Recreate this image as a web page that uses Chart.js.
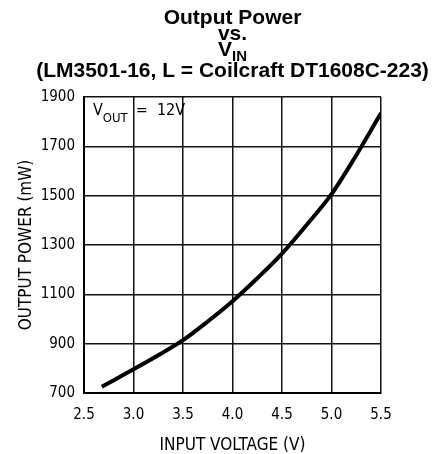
<!DOCTYPE html>
<html>
<head>
<meta charset="utf-8">
<script src="https://cdn.jsdelivr.net/npm/chart.js@4"></script>
<style>
  html, body { margin: 0; padding: 0; background: #fff; }
  #wrap { width: 438px; height: 454px; }
</style>
</head>
<body>
<div id="wrap"><canvas id="grafico" width="438" height="454"></canvas></div>
<script>
// values
var vin = [2.68, 3.0, 3.25, 3.5, 3.75, 4.0, 4.25, 4.5, 4.75, 5.0, 5.25, 5.5];
var pout = [725, 796, 853, 914, 990, 1072, 1165, 1265, 1382, 1506, 1664, 1835];
var xTickLabels = ['2.5', '3.0', '3.5', '4.0', '4.5', '5.0', '5.5'];
var yTickLabels = ['700', '900', '1100', '1300', '1500', '1700', '1900'];

var tickFont = { family: 'DejaVu Sans Condensed', size: 15 };
var axisFont = { family: 'DejaVu Sans Condensed', size: 17 };

// titles + V_OUT note (need subscripts, so drawn by hand)
var textos = {
    id: 'textos',
    afterDraw: function(chart) {
        var c = chart.ctx;
        var cx = (chart.chartArea.left + chart.chartArea.right) / 2;
        var big = 'bold 21px "Liberation Sans"';
        var sub = 'bold 15px "Liberation Sans"';
        c.save();
        c.fillStyle = '#000';
        c.textBaseline = 'middle';
        c.textAlign = 'center';
        c.font = big;
        c.fillText('Output Power', cx, 18);
        c.fillText('vs.', cx, 34);
        // V with IN subscript
        var wV = c.measureText('V').width;
        c.font = sub;
        var wIn = c.measureText('IN').width;
        var x0 = cx - (wV + wIn) / 2;
        c.textAlign = 'left';
        c.font = big;
        c.fillText('V', x0, 50);
        c.font = sub;
        c.fillText('IN', x0 + wV, 57);
        c.textAlign = 'center';
        c.font = big;
        c.fillText('(LM3501-16, L = Coilcraft DT1608C-223)', cx, 71);

        // V_OUT = 12V
        c.textAlign = 'left';
        c.font = '16px "DejaVu Sans Condensed"';
        var x = chart.chartArea.left + 9;
        c.fillText('V', x, 111);
        x += c.measureText('V').width;
        c.font = '13px "DejaVu Sans Condensed"';
        c.fillText('OUT', x, 119);
        x += c.measureText('OUT').width + 8;
        c.font = '16px "DejaVu Sans Condensed"';
        c.fillText('=  12V', x, 111);
        c.restore();
    }
};

var ctx = document.getElementById('grafico').getContext('2d');
var grafico = new Chart(ctx, {
    type: 'line',
    data: {
        datasets: [{
            data: vin.map(function(v, i) { return { x: v, y: pout[i] }; }),
            borderColor: '#000',
            borderWidth: 4,
            pointRadius: 0,
            fill: false,
            cubicInterpolationMode: 'monotone'
        }]
    },
    options: {
        responsive: false,
        animation: false,
        events: [],
        layout: { padding: { left: 0, top: 97, right: 57, bottom: 0 } },
        plugins: {
            legend: { display: false },
            tooltip: { enabled: false }
        },
        scales: {
            x: {
                type: 'linear',
                min: 2.5,
                max: 5.5,
                afterFit: function(s) { s.height = 61; },
                ticks: {
                    stepSize: 0.5,
                    color: '#000',
                    font: tickFont,
                    padding: 13,
                    callback: function(v, i) { return xTickLabels[i]; }
                },
                grid: { color: '#111', lineWidth: 1.5, drawTicks: false },
                border: { color: '#000', width: 2 },
                title: {
                    display: true,
                    text: 'INPUT VOLTAGE (V)',
                    color: '#000',
                    font: axisFont,
                    padding: { top: 0, bottom: -2 }
                }
            },
            y: {
                min: 700,
                max: 1900,
                afterFit: function(s) { s.width = 84; },
                ticks: {
                    stepSize: 200,
                    color: '#000',
                    font: tickFont,
                    padding: 9,
                    callback: function(v, i) { return yTickLabels[i]; }
                },
                grid: { color: '#111', lineWidth: 1.5, drawTicks: false },
                border: { color: '#000', width: 2 },
                title: {
                    display: true,
                    text: 'OUTPUT POWER (mW)',
                    color: '#000',
                    font: axisFont,
                    padding: { top: 16, bottom: 0 }
                }
            }
        }
    },
    plugins: [textos]
});
</script>
</body>
</html>
